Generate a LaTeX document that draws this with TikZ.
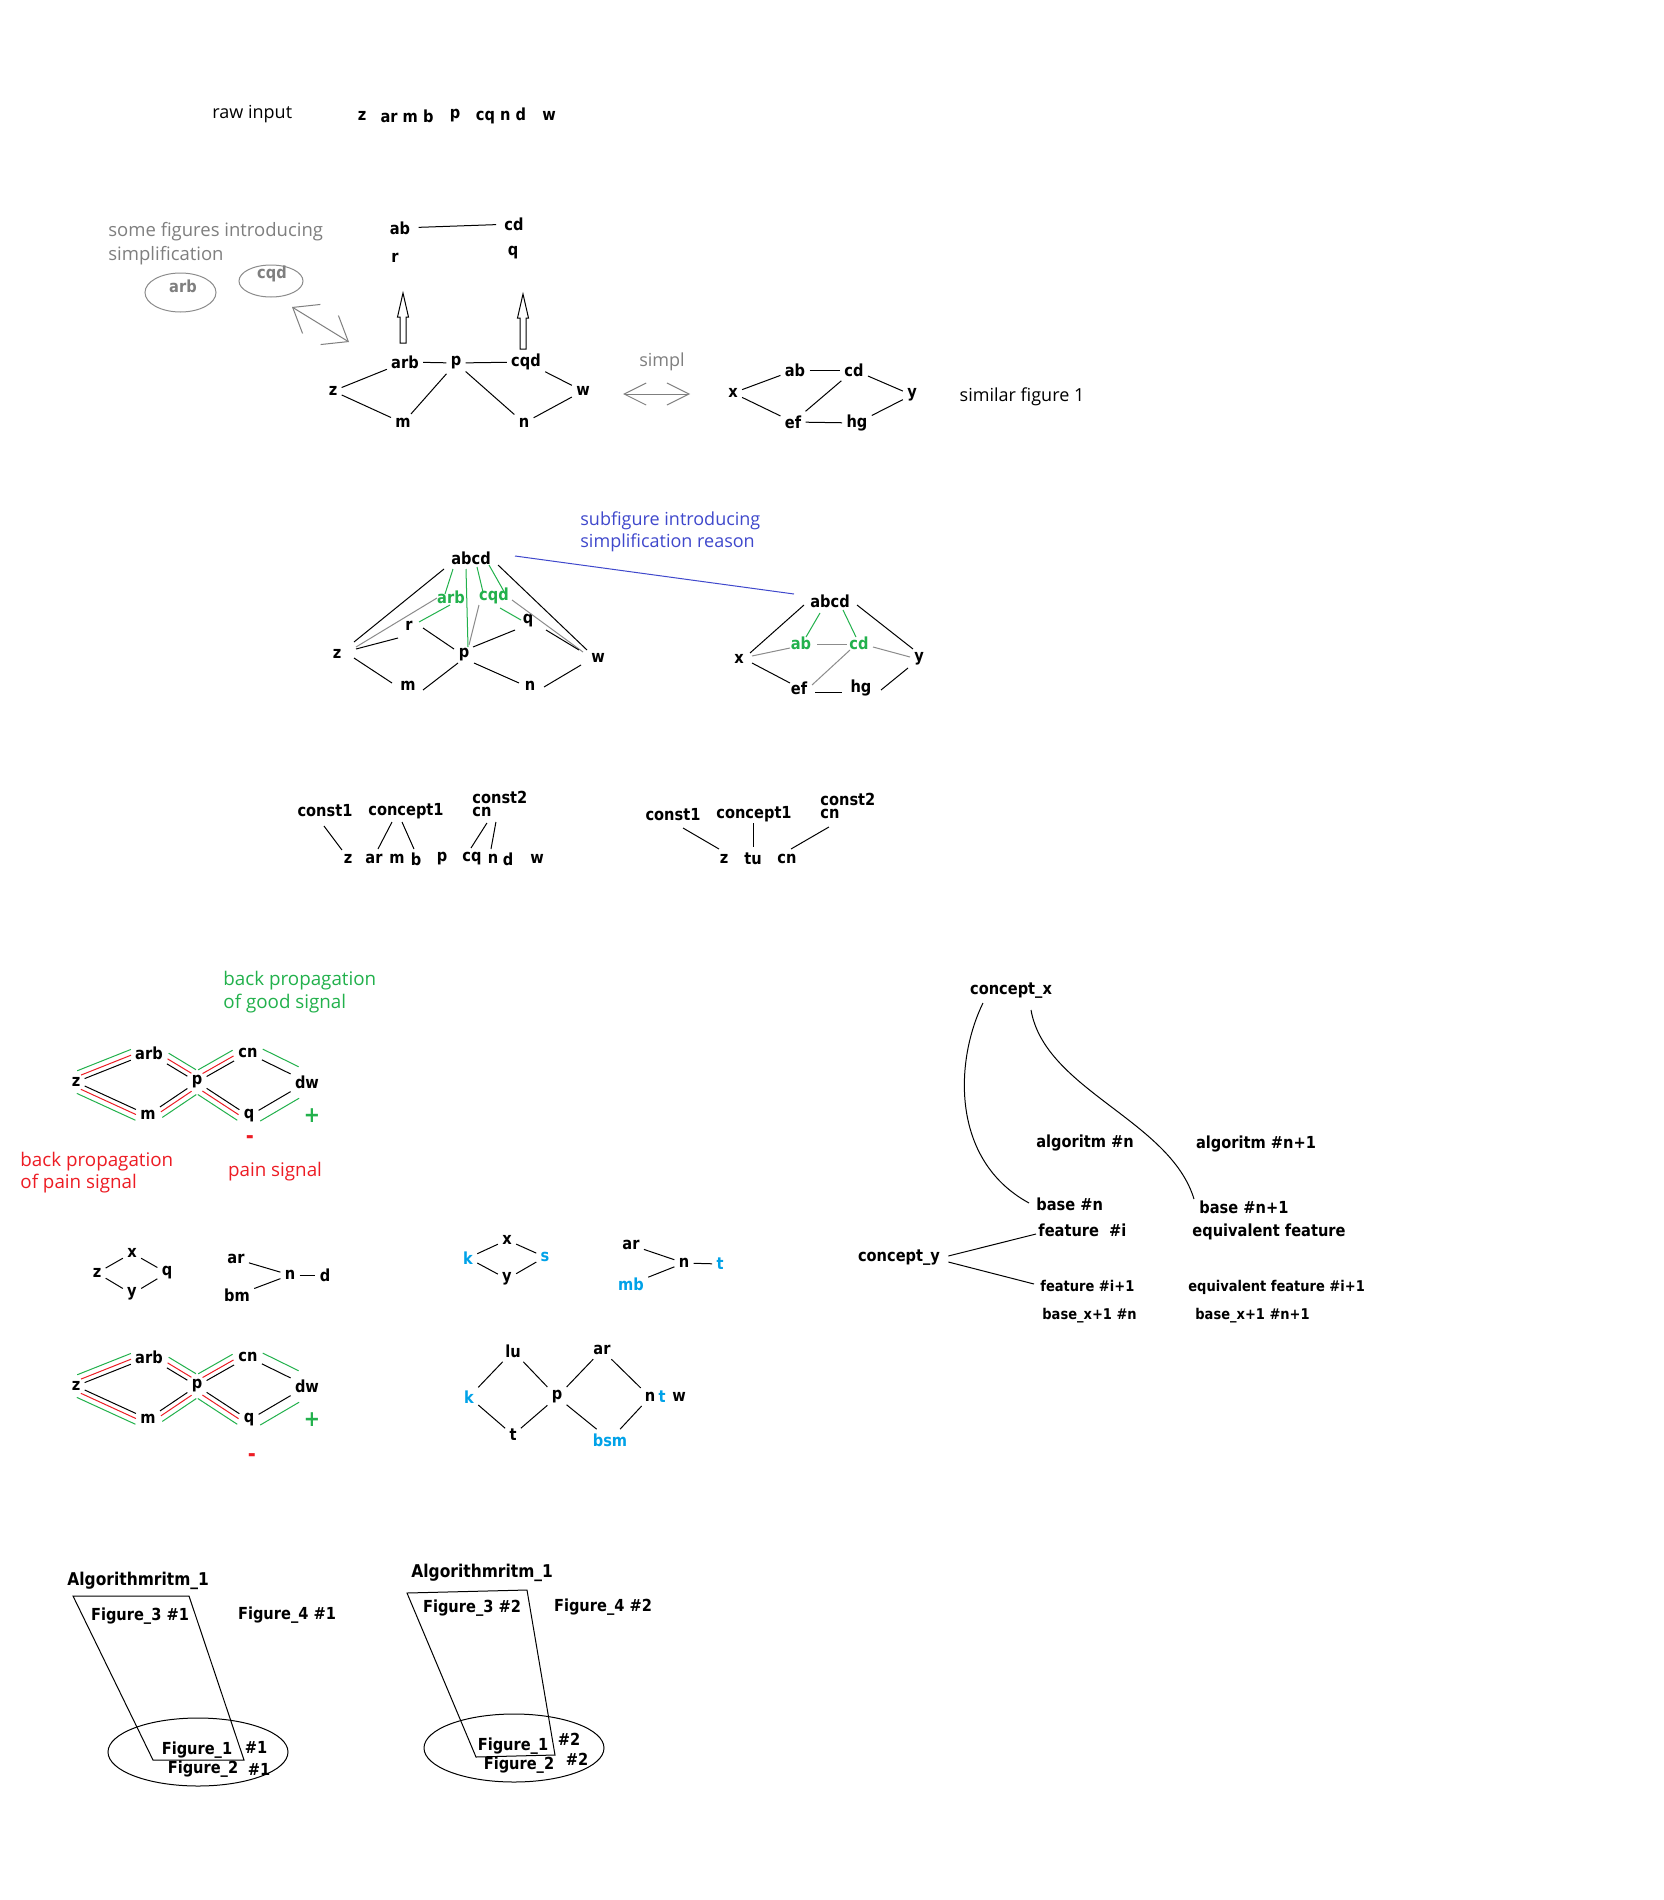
\documentclass[tikz,border=0pt]{standalone}
\usepackage{fontspec}
\setmainfont{Open Sans}
\newfontfamily\labfam[FakeStretch=0.88]{DejaVu Sans}
\usetikzlibrary{calc,arrows.meta}
\definecolor{pgreen}{HTML}{22B14C}
\definecolor{pred}{HTML}{ED1C24}
\definecolor{pblue}{HTML}{3F48CC}
\definecolor{pcyan}{HTML}{00A2E8}
\definecolor{pgray}{HTML}{7F7F7F}
\definecolor{lgray}{HTML}{8C8C8C}
\tikzset{
  lab/.style={font=\labfam\bfseries\fontsize{8.3}{10}\selectfont, inner sep=2pt},
  blab/.style={font=\labfam\bfseries\fontsize{8.8}{10}\selectfont, inner sep=2pt},
  slab/.style={font=\labfam\bfseries\fontsize{7.4}{9}\selectfont, inner sep=2pt},
  sign/.style={font=\labfam\bfseries\fontsize{11}{12}\selectfont, inner sep=0pt},
  txt/.style={font=\fontsize{9}{11.5}\selectfont, inner sep=0pt},
  ln/.style={line width=0.5pt, draw=black},
  gln/.style={line width=0.5pt, draw=lgray},
  grn/.style={line width=0.5pt, draw=pgreen},
}
\newcommand\hollowup[3]{%
  \draw[line width=0.5pt] (#1-3,#2) -- (#1-3,#3+24) -- (#1-5.5,#3+24) -- (#1,#3) -- (#1+5.5,#3+24) -- (#1+3,#3+24) -- (#1+3,#2) -- cycle;}
\newcommand\sigedge[5]{%
  \path (#1) -- coordinate[pos=0] (se1) coordinate[pos=1] (se2) (#2);
  \draw[ln] (se1) -- (se2);
  \draw[line width=0.5pt, draw=pgreen, shorten <=-2pt, shorten >=-2pt] ($(se1)!5pt!#3:(se2)$) -- ($(se2)!5pt!#4:(se1)$);
  \ifnum#5=1 \draw[line width=0.5pt, draw=pred, shorten <=-1pt, shorten >=-1pt] ($(se1)!2.3pt!#3:(se2)$) -- ($(se2)!2.3pt!#4:(se1)$);\fi}
\newcommand\sigdia[2]{%
  \begin{scope}[shift={(0,#1)}]
    \node[lab] (#2arb) at (149,1053) {arb};
    \node[lab] (#2cn) at (248,1053) {cn};
    \node[lab] (#2z) at (76,1082) {z};
    \node[lab] (#2p) at (197,1082) {p};
    \node[lab] (#2dw) at (307,1082) {dw};
    \node[lab] (#2m) at (148,1115) {m};
    \node[lab] (#2q) at (249,1116) {q};
    \node[sign,text=pgreen] (#2plus) at (312,1116) {+};
    \sigedge{#2z}{#2arb}{90}{-90}{1}
    \sigedge{#2z}{#2m}{-90}{90}{1}
    \sigedge{#2arb}{#2p}{90}{-90}{1}
    \sigedge{#2m}{#2p}{-90}{90}{1}
    \sigedge{#2p}{#2cn}{90}{-90}{1}
    \sigedge{#2p}{#2q}{-90}{90}{1}
    \sigedge{#2cn}{#2dw}{90}{-90}{0}
    \sigedge{#2q}{#2dw}{-90}{90}{0}
  \end{scope}}
\begin{document}
\begin{tikzpicture}[x=0.5pt,y=-0.5pt]
\useasboundingbox (0,0) rectangle (1664,1900);
\fill[white] (0,0) rectangle (1664,1900);

% ---- raw input
\node[txt,anchor=west] (raw) at (212,114) {raw input};
\node[lab] (ri1) at (362,116) {z};
\node[lab] (ri2) at (407,116) {ar m b};
\node[lab] (ri3) at (455,116) {p};
\node[lab] (ri4) at (501,116) {cq n d};
\node[lab] (ri5) at (549,116) {w};

% ---- some figures introducing simplification
\node[txt,text=pgray,anchor=west,font=\fontsize{9.25}{11.5}\selectfont] (sf1) at (108,232) {some figures introducing};
\node[txt,text=pgray,anchor=west,font=\fontsize{9.25}{11.5}\selectfont] (sf2) at (108,256) {simplification};
\draw[gln] (180.5,292.5) ellipse [x radius=17.75pt, y radius=9.75pt];
\node[lab,text=pgray] (ea) at (183,286) {arb};
\draw[gln] (271,281) ellipse [x radius=16pt, y radius=8pt];
\node[lab,text=pgray] (ec) at (272,274) {cqd};
\coordinate (da1) at (292,307);
\coordinate (da2) at (349,342);
\draw[line width=0.5pt, draw=pgray, {Straight Barb[length=11pt,width=17pt]}-{Straight Barb[length=11pt,width=17pt]}] (da1) -- (da2);

\node[lab] (tab) at (400,228) {ab};
\node[lab] (tcd) at (514,224) {cd};
\node[lab] (tr) at (395,258) {r};
\node[lab] (tq) at (513,253) {q};
\draw[ln, shorten <=2pt, shorten >=2pt] (tab) -- (tcd);
\hollowup{403}{343}{293}
\hollowup{523}{349}{294}

\node[lab] (la) at (405,362) {arb};
\node[lab] (lp) at (456,363) {p};
\node[lab] (lc) at (526,362) {cqd};
\node[lab] (lz) at (333,391) {z};
\node[lab] (lw) at (583,391) {w};
\node[lab] (lm) at (403,423) {m};
\node[lab] (lN) at (524,423) {n};
\draw[ln] (lz) -- (la);
\draw[ln] (la) -- (lp);
\draw[ln] (lp) -- (lc);
\draw[ln] (lc) -- (lw);
\draw[ln] (lz) -- (lm);
\draw[ln] (lp) -- (lm);
\draw[ln] (lp) -- (lN);
\draw[ln] (lN) -- (lw);

\node[txt,text=pgray] (simpl) at (662,362) {simpl};
\coordinate (sa1) at (623,394);
\coordinate (sa2) at (690,394);
\draw[line width=0.5pt, draw=pgray, {Straight Barb[length=11pt,width=11pt]}-{Straight Barb[length=11pt,width=11pt]}] (sa1) -- (sa2);

\node[lab] (sx) at (733,393) {x};
\node[lab] (sab) at (795,370) {ab};
\node[lab] (scd) at (854,370) {cd};
\node[lab] (sy) at (912,395) {y};
\node[lab] (sef) at (793,422) {ef};
\node[lab] (shg) at (857,423) {hg};
\draw[ln] (sx) -- (sab);
\draw[ln] (sab) -- (scd);
\draw[ln] (scd) -- (sy);
\draw[ln] (sx) -- (sef);
\draw[ln] (sef) -- (scd);
\draw[ln] (sef) -- (shg);
\draw[ln] (shg) -- (sy);
\node[txt] (sim) at (1022,397) {similar figure 1};

% ---- subfigure
\node[txt,text=pblue,anchor=west] (sub1) at (580,521) {subfigure introducing};
\node[txt,text=pblue,anchor=west] (sub2) at (580,543) {simplification reason};

\node[lab] (A) at (471,558) {abcd};
\node[lab,text=pgreen] (garb) at (451,597) {arb};
\node[lab,text=pgreen] (gcqd) at (494,596) {cqd};
\node[lab] (ur) at (409,626) {r};
\node[lab] (uq) at (528,621) {q};
\node[lab] (uz) at (337,654) {z};
\node[lab] (up) at (464,655) {p};
\node[lab] (uw) at (598,658) {w};
\node[lab] (um) at (408,686) {m};
\node[lab] (un) at (530,686) {n};

\draw[ln] ($(A)+(-27,11)$) -- ($(uz)+(17,-12)$);
\draw[ln] ($(A)+(27,7)$) -- ($(uw)+(-11,-8)$);
\draw[grn] ($(A)+(-18,11)$) -- ($(garb)+(-6,-3)$);
\draw[grn] ($(A)+(-5,11)$) -- ($(up)+(4,-8)$);
\draw[grn] ($(A)+(6,9)$) -- ($(gcqd)+(-11,-4)$);
\draw[grn] ($(A)+(18,7)$) -- ($(gcqd)+(12,-1)$);
\draw[grn] ($(garb)+(-1,8)$) -- ($(ur)+(10,-4)$);
\draw[gln] ($(garb)+(-14,1)$) -- ($(uz)+(19,-7)$);
\draw[grn] ($(gcqd)+(6,12)$) -- ($(uq)+(-7,-1)$);
\draw[gln] ($(gcqd)+(-15,9)$) -- ($(up)+(5,-10)$);
\draw[gln] ($(gcqd)+(18,4)$) -- ($(uw)+(-15,-6)$);
\draw[ln] ($(ur)+(-11,12)$) -- ($(uz)+(19,-5)$);
\draw[ln] ($(ur)+(14,2)$) -- ($(up)+(-10,-6)$);
\draw[ln] ($(uq)+(-13,9)$) -- ($(up)+(9,-8)$);
\draw[ln] ($(uq)+(18,9)$) -- ($(uw)+(-19,-8)$);
\draw[ln] ($(uz)+(17,4)$) -- ($(um)+(-16,-3)$);
\draw[ln] ($(up)+(-6,8)$) -- ($(um)+(15,4)$);
\draw[ln] ($(up)+(10,8)$) -- ($(un)+(-11,-3)$);
\draw[ln] ($(uw)+(-17,7)$) -- ($(un)+(14,1)$);

\node[lab] (B) at (830,601) {abcd};
\node[lab,text=pgreen] (gab) at (801,643) {ab};
\node[lab,text=pgreen] (gcd) at (859,643) {cd};
\node[lab] (vx) at (739,659) {x};
\node[lab] (vy) at (919,659) {y};
\node[lab] (vef) at (799,688) {ef};
\node[lab] (vhg) at (861,688) {hg};
\draw[line width=0.5pt, draw=pblue] ($(A)+(44,-2)$) -- ($(B)+(-36,-7)$);
\draw[ln] ($(B)+(-26,4)$) -- ($(vx)+(11,-6)$);
\draw[grn] ($(B)+(-10,12)$) -- ($(gab)+(5,-6)$);
\draw[grn] ($(B)+(13,9)$) -- ($(gcd)+(-3,-6)$);
\draw[ln] ($(B)+(27,4)$) -- ($(vy)+(-6,-10)$);
\draw[gln] ($(vx)+(13,-3)$) -- ($(gab)+(-11,5)$);
\draw[gln] ($(gab)+(16,1)$) -- ($(gcd)+(-12,1)$);
\draw[gln] ($(gcd)+(14,4)$) -- ($(vy)+(-9,-2)$);
\draw[ln] ($(vx)+(13,4)$) -- ($(vef)+(-9,-5)$);
\draw[gln] ($(vef)+(13,-3)$) -- ($(gcd)+(-9,7)$);
\draw[ln] ($(vef)+(16,4)$) -- ($(vhg)+(-19,4)$);
\draw[ln] ($(vhg)+(20,2)$) -- ($(vy)+(-11,9)$);

% ---- const / concept
\node[lab] (c1) at (325,811) {const1};
\node[lab] (cp1) at (406,811) {concept1};
\node[lab,anchor=west] (c2) at (468,797) {const2};
\node[lab,anchor=west] (ccn) at (468,812) {cn};
\node[lab] (bz) at (348,859) {z};
\node[lab] (bar) at (374,859) {ar};
\node[lab] (bm) at (397,859) {m};
\node[lab] (bb) at (416,859) {b};
\node[lab] (bp) at (442,859) {p};
\node[lab] (bcq) at (472,859) {cq};
\node[lab] (bn) at (493,859) {n};
\node[lab] (bd) at (508,859) {d};
\node[lab] (bw) at (537,859) {w};
\draw[ln] ($(c1)+(-1,15)$) -- ($(bz)+(-6,-9)$);
\draw[ln] ($(cp1)+(-14,11)$) -- ($(bar)+(4,-10)$);
\draw[ln] ($(cp1)+(-4,11)$) -- ($(bb)+(-2,-10)$);
\draw[ln] ($(ccn)+(5,11)$) -- ($(bcq)+(-1,-11)$);
\draw[ln] ($(ccn)+(14,10)$) -- ($(bn)+(-2,-10)$);

\node[lab] (d1) at (673,815) {const1};
\node[lab] (dp1) at (754,814) {concept1};
\node[lab,anchor=west] (d2) at (816,799) {const2};
\node[lab,anchor=west] (dcn) at (816,814) {cn};
\node[lab] (ez) at (724,859) {z};
\node[lab] (etu) at (753,859) {tu};
\node[lab] (ecn) at (787,859) {cn};
\draw[ln] ($(d1)+(10,13)$) -- ($(ez)+(-5,-10)$);
\draw[ln] ($(dp1)+(-1,9)$) -- ($(etu)+(0,-12)$);
\draw[ln] ($(dcn)+(-1,13)$) -- ($(ecn)+(4,-10)$);

% ---- back propagation
\node[txt,text=pgreen,anchor=west,font=\fontsize{9.4}{11.5}\selectfont] (bpg1) at (223,981) {back propagation};
\node[txt,text=pgreen,anchor=west,font=\fontsize{9.4}{11.5}\selectfont] (bpg2) at (223,1004) {of good signal};
\node[txt,text=pred,anchor=west,font=\fontsize{9.4}{11.5}\selectfont] (bpr1) at (20,1162) {back propagation};
\node[txt,text=pred,anchor=west,font=\fontsize{9.4}{11.5}\selectfont] (bpr2) at (20,1184) {of pain signal};
\node[txt,text=pred,font=\fontsize{9.4}{11.5}\selectfont] (pain) at (275,1172) {pain signal};
\sigdia{0}{f}
\node[sign,text=pred] (fminus) at (250,1140) {-};
\sigdia{304}{h}
\node[sign,text=pred] (hminus) at (252,1458) {-};

% ---- small diagrams
\node[lab] (ox) at (132,1253) {x};
\node[lab] (oz) at (97,1273) {z};
\node[lab] (oq) at (167,1273) {q};
\node[lab] (oy) at (132,1294) {y};
\draw[ln] (oz) -- (ox);
\draw[ln] (ox) -- (oq);
\draw[ln] (oz) -- (oy);
\draw[ln] (oy) -- (oq);
\node[lab] (oar) at (236,1259) {ar};
\node[lab] (obm) at (237,1295) {bm};
\node[lab] (on) at (290,1275) {n};
\node[lab] (od) at (325,1275) {d};
\draw[ln] (oar) -- (on);
\draw[ln] (obm) -- (on);
\draw[ln] (on) -- (od);

\node[lab] (px) at (507,1240) {x};
\node[lab,text=pcyan] (pk) at (468,1258) {k};
\node[lab,text=pcyan] (ps) at (545,1257) {s};
\node[lab] (py) at (507,1279) {y};
\draw[ln] (pk) -- (px);
\draw[ln] (px) -- (ps);
\draw[ln] (pk) -- (py);
\draw[ln] (py) -- (ps);
\node[lab] (par) at (631,1245) {ar};
\node[lab,text=pcyan] (pmb) at (631,1284) {mb};
\node[lab] (pn) at (684,1263) {n};
\node[lab,text=pcyan] (pt) at (720,1264) {t};
\draw[ln] (par) -- (pn);
\draw[ln] (pmb) -- (pn);
\draw[ln] (pn) -- (pt);

\node[lab] (qlu) at (513,1351) {lu};
\node[lab] (qar) at (602,1350) {ar};
\node[lab,text=pcyan] (qk) at (469,1397) {k};
\node[lab] (qp) at (557,1397) {p};
\node[lab] (qn) at (650,1397) {n};
\node[lab,text=pcyan,inner sep=0pt] (qt2) at (662,1397) {t};
\node[lab,inner sep=0pt] (qw) at (679,1397) {w};
\node[lab] (qt) at (513,1435) {t};
\node[lab,text=pcyan] (qbsm) at (610,1440) {bsm};
\draw[ln] (qlu) -- (qk);
\draw[ln] (qlu) -- (qp);
\draw[ln] (qk) -- (qt);
\draw[ln] (qt) -- (qp);
\draw[ln] (qp) -- (qar);
\draw[ln] (qp) -- (qbsm);
\draw[ln] (qar) -- (qn);
\draw[ln] (qn) -- (qbsm);

% ---- concepts
\node[lab] (cx) at (1011,991) {concept\_x};
\node[lab] (an) at (1085,1143) {algoritm \#n};
\node[lab] (an1) at (1256,1144) {algoritm \#n+1};
\node[lab,anchor=west] (bsn) at (1032,1204) {base \#n};
\node[lab,anchor=west] (fi) at (1034,1230) {feature\ \ \#i};
\node[lab,anchor=west] (bsn1) at (1195,1207) {base \#n+1};
\node[lab,anchor=west] (eqf) at (1188,1232) {equivalent feature};
\node[lab] (cy) at (899,1258) {concept\_y};
\node[slab,anchor=west] (fi1) at (1036,1286) {feature \#i+1};
\node[slab,anchor=west] (eqf1) at (1184,1287) {equivalent feature \#i+1};
\node[slab,anchor=west] (bx) at (1038,1316) {base\_x+1 \#n};
\node[slab,anchor=west] (bx1) at (1191,1316) {base\_x+1 \#n+1};
\coordinate (k1s) at (983,1003);
\coordinate (k1e) at (1029,1203);
\draw[ln] (k1s) .. controls (955,1060) and (950,1160) .. (k1e);
\coordinate (k2s) at (1031,1010);
\coordinate (k2e) at (1194,1199);
\draw[ln] (k2s) .. controls (1045,1090) and (1170,1120) .. (k2e);
\draw[ln] ($(cy.east)+(4,-2)$) -- ($(fi.west)+(2,4)$);
\draw[ln] ($(cy.east)+(4,4)$) -- ($(fi1.west)+(-2,-2)$);

% ---- algorithm figures
\node[blab,anchor=west] (al1) at (63,1581) {Algorithmritm\_1};
\draw[ln] (73,1596) -- (189,1596) -- (244,1760) -- (153,1760) -- cycle;
\node[lab] (f31) at (140,1616) {Figure\_3 \#1};
\node[lab] (f41) at (287,1615) {Figure\_4 \#1};
\draw[ln] (198,1752) ellipse [x radius=45pt, y radius=17pt];
\node[lab] (f11) at (197,1750) {Figure\_1};
\node[lab] (h11) at (256,1747) {\#1};
\node[lab] (f21) at (203,1769) {Figure\_2};
\node[lab] (h21) at (259,1769) {\#1};

\node[blab,anchor=west] (al2) at (407,1573) {Algorithmritm\_1};
\draw[ln] (407,1593) -- (527,1590) -- (555,1755) -- (476,1757) -- cycle;
\node[lab] (f32) at (472,1608) {Figure\_3 \#2};
\node[lab] (f42) at (603,1607) {Figure\_4 \#2};
\draw[ln] (514,1748) ellipse [x radius=45pt, y radius=17pt];
\node[lab] (f12) at (513,1746) {Figure\_1};
\node[lab] (h12) at (569,1739) {\#2};
\node[lab] (f22) at (519,1765) {Figure\_2};
\node[lab] (h22) at (577,1759) {\#2};
\end{tikzpicture}
\end{document}
